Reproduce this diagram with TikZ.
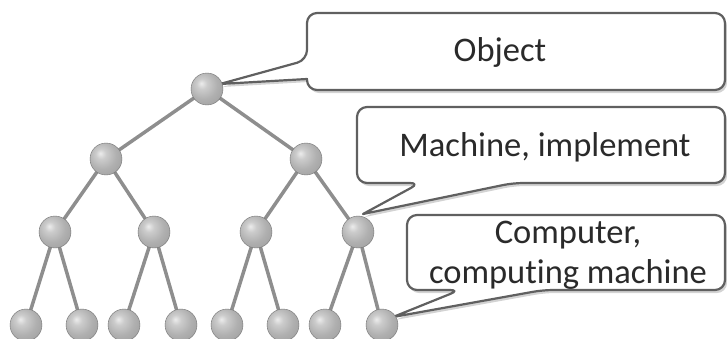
\documentclass[tikz,border=0pt]{standalone}
\usepackage{fontspec}
\setmainfont{Carlito}[Ligatures=NoCommon]
\usetikzlibrary{shadows}
\definecolor{edgec}{HTML}{8E8E8E}
\definecolor{boxc}{HTML}{606060}
\definecolor{txtc}{HTML}{2A2A2A}
\pgfdeclareradialshading{myball}{\pgfpoint{-9bp}{9bp}}{%
  color(0bp)=(gray!15); color(8bp)=(gray!40); color(22bp)=(gray!62);
  color(40bp)=(gray!78); color(52bp)=(gray!95); color(70bp)=(gray!95)}
\tikzset{
  ball/.style={circle, minimum size=32pt, inner sep=0pt, shading=myball, draw=gray!90!black, line width=0.4pt},
  link/.style={draw=edgec, line width=3.5pt},
  callout/.style={draw=boxc, line width=2.2pt, fill=white, rounded corners=10pt, line join=round,
     drop shadow={shadow xshift=2pt, shadow yshift=-3pt, opacity=0.35, fill=gray}},
  lbl/.style={text=txtc, font=\fontsize{34.5}{40}\selectfont, align=center}
}
\begin{document}
\begin{tikzpicture}[x=1pt,y=-1pt]
\useasboundingbox (0,0) rectangle (727,338);
% nodes
\coordinate (r) at (207,89);
\coordinate (a) at (106,159);
\coordinate (b) at (306,159);
\coordinate (c1) at (55,232);
\coordinate (c2) at (154,232);
\coordinate (c3) at (256,232);
\coordinate (c4) at (358,232);
\coordinate (d1) at (26,325);
\coordinate (d2) at (82,325);
\coordinate (d3) at (124,325);
\coordinate (d4) at (181,325);
\coordinate (d5) at (227,325);
\coordinate (d6) at (283,325);
\coordinate (d7) at (325,325);
\coordinate (d8) at (382,325);
% edges
\path[link] (r) -- (a) (r) -- (b)
  (a) -- (c1) (a) -- (c2) (b) -- (c3) (b) -- (c4)
  (c1) -- (d1) (c1) -- (d2) (c2) -- (d3) (c2) -- (d4)
  (c3) -- (d5) (c3) -- (d6) (c4) -- (d7) (c4) -- (d8);
% callouts
\path[callout] (220,84) -- (307,60) -- (307,13) -- (725,13) -- (725,90) -- (307,90) [sharp corners] -- (307,79) -- cycle;
\path[callout] (363,214) -- (420,183) -- (357,183) -- (357,107) -- (725,107) -- (725,183) -- (513,183) [sharp corners] -- cycle;
\path[callout] (393,317) -- (460,290) -- (407,290) -- (407,215) -- (725,215) -- (725,290) -- (543,290) [sharp corners] -- cycle;
% balls
\foreach \n in {r,a,b,c1,c2,c3,c4,d1,d2,d3,d4,d5,d6,d7,d8}
  \node[ball] (n\n) at (\n) {};
% labels
\node[lbl] (t1) at (500,52) {Object};
\node[lbl] (t2) at (545,147) {Machine, implement};
\node[lbl] (t3) at (568,255) {Computer,\\computing machine};
\end{tikzpicture}
\end{document}
